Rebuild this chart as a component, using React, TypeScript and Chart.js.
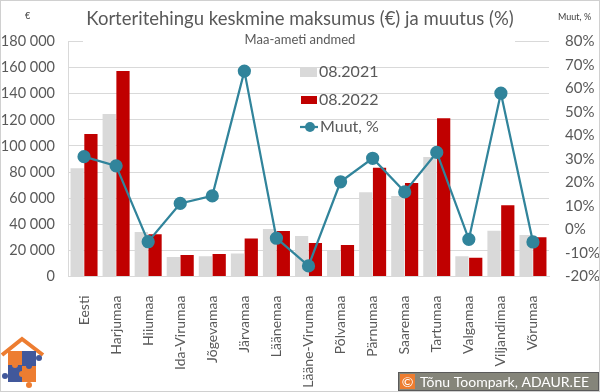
import React, { useEffect, useRef } from "react";
import { Chart, registerables } from "chart.js";

Chart.register(...registerables);

const categories = [
  "Eesti", "Harjumaa", "Hiiumaa", "Ida-Virumaa", "Jõgevamaa", "Järvamaa", "Läänemaa",
  "Lääne-Virumaa", "Põlvamaa", "Pärnumaa", "Saaremaa", "Tartumaa", "Valgamaa", "Viljandimaa", "Võrumaa",
];
const price2021 = [83000, 124400, 34000, 15000, 15500, 17700, 36400, 31000, 20000, 64500, 61600, 91500, 15500, 35000, 31800];
const price2022 = [109100, 157400, 32300, 16500, 17200, 29200, 34800, 25600, 24100, 83300, 71600, 121300, 14400, 54500, 30000];
const changePct = [31, 27.1, -5.2, 11.1, 14.3, 67.4, -3.7, -15.5, 20.3, 30.3, 16, 32.8, -4.2, 58, -5.3];

const seriesNames = ["08.2021", "08.2022", "Muut, %"];
const titleText = "Korteritehingu keskmine maksumus (€) ja muutus (%)";
const subtitleText = "Maa-ameti andmed";
const leftUnit = "€";
const rightUnit = "Muut, %";
const credit = "Tõnu Toompark, ADAUR.EE";

const GRAY = "#d9d9d9";
const RED = "#c00000";
const TEAL = "#31849b";
const TEXT = "#595959";
const FONT = "Lato, 'Open Sans', sans-serif";

const fmt = (v: number) => String(v).replace(/\B(?=(\d{3})+(?!\d))/g, " ");

const decor = {
  id: "decor",
  afterDraw(chart: any) {
    const ctx = chart.ctx as CanvasRenderingContext2D;
    ctx.save();
    // white box behind title (hides top gridline)
    ctx.fillStyle = "#ffffff";
    ctx.fillRect(83, 34, 432, 12);
    // title
    ctx.fillStyle = TEXT;
    ctx.textAlign = "center";
    ctx.textBaseline = "alphabetic";
    ctx.font = `18.5px ${FONT}`;
    ctx.fillText(titleText, 300, 25);
    ctx.font = `13px ${FONT}`;
    ctx.fillText(subtitleText, 300, 44);
    // axis unit labels
    ctx.fillStyle = "#404040";
    ctx.font = `9px ${FONT}`;
    ctx.textAlign = "left";
    ctx.fillText(leftUnit, 25, 19);
    ctx.fillText(rightUnit, 558, 20);
    // legend
    ctx.font = `16px ${FONT}`;
    ctx.fillStyle = GRAY;
    ctx.fillRect(300, 68, 17, 9);
    ctx.fillStyle = RED;
    ctx.fillRect(301, 96, 16, 8);
    ctx.strokeStyle = TEAL;
    ctx.lineWidth = 2.25;
    ctx.beginPath();
    ctx.moveTo(300, 127);
    ctx.lineTo(318, 127);
    ctx.stroke();
    ctx.fillStyle = TEAL;
    ctx.beginPath();
    ctx.arc(310, 127, 5, 0, Math.PI * 2);
    ctx.fill();
    ctx.fillStyle = TEXT;
    ctx.textBaseline = "middle";
    ctx.fillText(seriesNames[0], 319, 72);
    ctx.fillText(seriesNames[1], 319, 100);
    ctx.fillText(seriesNames[2], 320, 127);
    // logo
    const OR = "#ed7d31";
    const BL = "#41589b";
    ctx.strokeStyle = OR;
    ctx.lineWidth = 4;
    ctx.beginPath();
    ctx.moveTo(2, 355);
    ctx.lineTo(22, 339);
    ctx.lineTo(43, 355);
    ctx.stroke();
    ctx.fillStyle = OR;
    ctx.fillRect(8, 351, 14, 14);
    ctx.fillRect(22, 366, 14, 16);
    ctx.fillStyle = BL;
    ctx.fillRect(22, 351, 14, 15);
    ctx.fillRect(8, 365, 14, 17);
    const knob = (x: number, y: number, c: string) => {
      ctx.fillStyle = c;
      ctx.beginPath();
      ctx.arc(x, y, 3, 0, Math.PI * 2);
      ctx.fill();
    };
    knob(39, 358, BL);
    knob(5, 376, BL);
    knob(29, 385, OR);
    knob(22, 374, OR);
    knob(15, 365, OR);
    knob(29, 366, BL);
    // credit box
    ctx.fillStyle = "#85857a";
    ctx.fillRect(398, 372, 201, 19);
    ctx.strokeStyle = "#5a5a5a";
    ctx.lineWidth = 1;
    ctx.strokeRect(398.5, 372.5, 200, 18);
    ctx.fillStyle = OR;
    ctx.fillRect(400, 374, 15, 15);
    ctx.fillStyle = "#ffffff";
    ctx.font = `14px ${FONT}`;
    ctx.textAlign = "center";
    ctx.fillText("©", 407.5, 382);
    ctx.textAlign = "left";
    ctx.fillText(credit, 420, 382);
    // outer border
    ctx.strokeStyle = "#d0d0d0";
    ctx.lineWidth = 1;
    ctx.strokeRect(0.5, 0.5, 599, 391);
    ctx.restore();
  },
};

export default function App() {
  const ref = useRef<HTMLCanvasElement | null>(null);
  useEffect(() => {
    document.body.style.margin = "0";
    const chart = new Chart(ref.current as HTMLCanvasElement, {
      type: "bar",
      data: {
        labels: categories,
        datasets: [
          {
            type: "line",
            label: seriesNames[2],
            data: changePct,
            yAxisID: "y1",
            borderColor: TEAL,
            backgroundColor: TEAL,
            borderWidth: 2.25,
            pointRadius: 5.5,
            pointBackgroundColor: TEAL,
            pointBorderColor: TEAL,
            tension: 0,
            order: 0,
          } as any,
          {
            label: seriesNames[0],
            data: price2021,
            yAxisID: "y",
            backgroundColor: GRAY,
            barPercentage: 0.96,
            categoryPercentage: 0.86,
            order: 1,
          },
          {
            label: seriesNames[1],
            data: price2022,
            yAxisID: "y",
            backgroundColor: RED,
            barPercentage: 0.96,
            categoryPercentage: 0.86,
            order: 1,
          },
        ],
      },
      options: {
        responsive: false,
        animation: false,
        layout: { padding: { top: 41.5, left: 0, right: 0, bottom: 0 } },
        plugins: { legend: { display: false }, title: { display: false }, tooltip: { enabled: false } },
        scales: {
          x: {
            grid: { display: false },
            border: { display: true, color: GRAY },
            ticks: {
              minRotation: 90,
              maxRotation: 90,
              autoSkip: false,
              color: TEXT,
              font: { family: FONT, size: 14 },
              padding: 11,
            },
            afterFit: (s: any) => { s.height = 115.5; },
          },
          y: {
            position: "left",
            min: 0,
            max: 180000,
            grid: { color: GRAY, drawTicks: false },
            border: { display: true, color: GRAY },
            ticks: {
              stepSize: 20000,
              color: TEXT,
              font: { family: FONT, size: 14.5 },
              padding: 13,
              callback: (v: any) => fmt(Number(v)),
            },
            afterFit: (s: any) => { s.width = 68; },
          },
          y1: {
            position: "right",
            min: -20,
            max: 80,
            grid: { display: false, drawTicks: false },
            border: { display: false },
            ticks: {
              stepSize: 10,
              color: TEXT,
              font: { family: FONT, size: 15 },
              padding: 16,
              callback: (v: any) => `${v}%`,
            },
            afterFit: (s: any) => { s.width = 51; },
          },
        },
      },
      plugins: [decor],
    });
    return () => chart.destroy();
  }, []);
  return (
    <div style={{ position: "fixed", left: 0, top: 0, width: 600, height: 392, background: "#fff" }}>
      <canvas ref={ref} width={600} height={392} style={{ width: 600, height: 392, display: "block" }} />
    </div>
  );
}
